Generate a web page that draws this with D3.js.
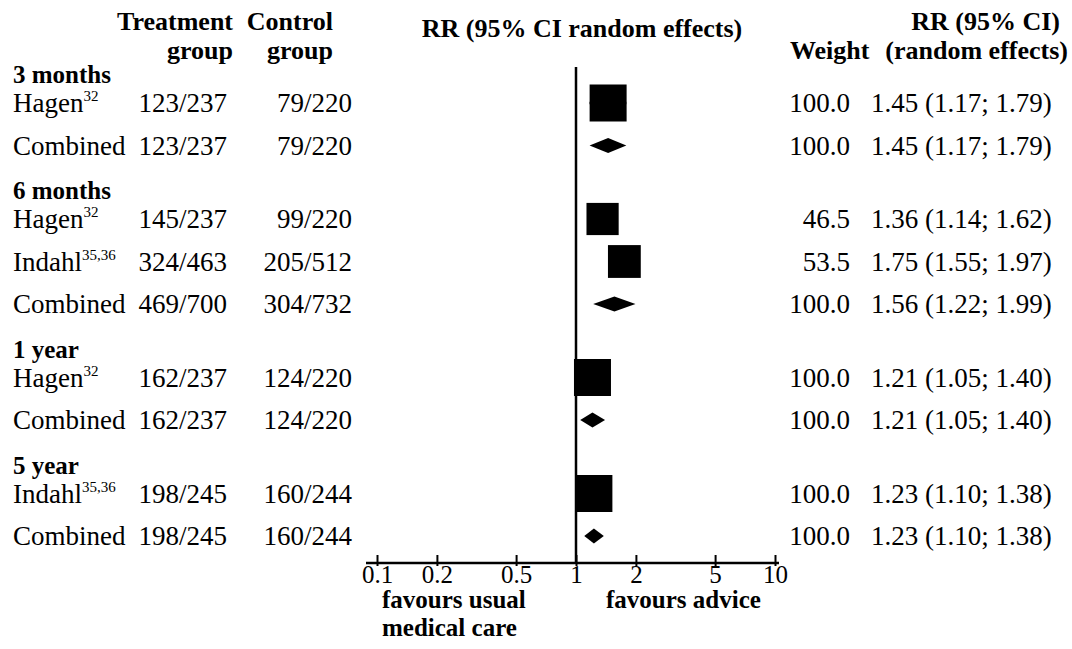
<!DOCTYPE html>
<html>
<head>
<meta charset="utf-8">
<script src="https://cdn.jsdelivr.net/npm/d3@7"></script>
<style>
  body { margin: 0; background: #fff; }
  text { font-family: "Liberation Serif", "Times New Roman", serif; fill: #000; }
</style>
</head>
<body>
<script>
	// data
	var groups = ["3 months", "6 months", "1 year", "5 year"];
	var groupOf = [0, 0, 1, 1, 1, 2, 2, 3, 3];
	var studies = ["Hagen", "Combined", "Hagen", "Indahl", "Combined", "Hagen", "Combined", "Indahl", "Combined"];
	var refs = ["32", "", "32", "35,36", "", "32", "", "35,36", ""];
	var treatment = ["123/237", "123/237", "145/237", "324/463", "469/700", "162/237", "162/237", "198/245", "198/245"];
	var control = ["79/220", "79/220", "99/220", "205/512", "304/732", "124/220", "124/220", "160/244", "160/244"];
	var weights = [100.0, 100.0, 46.5, 53.5, 100.0, 100.0, 100.0, 100.0, 100.0];
	var rr = [1.45, 1.45, 1.36, 1.75, 1.56, 1.21, 1.21, 1.23, 1.23];
	var lower = [1.17, 1.17, 1.14, 1.55, 1.22, 1.05, 1.05, 1.10, 1.10];
	var upper = [1.79, 1.79, 1.62, 1.97, 1.99, 1.40, 1.40, 1.38, 1.38];
	var tickValues = [0.1, 0.2, 0.5, 1, 2, 5, 10];

	var w = 1072;
	var h = 649;
	var axisY = 563;

	var svg = d3.select("body")
				.append("svg")
				.attr("width", w)
				.attr("height", h);

	// scales
	var x = d3.scaleLog()
			.domain([0.1, 10])
			.range([377, 775]);

	var rowY = d3.scaleLinear()
			.domain([0, studies.length - 1])
			.range([112, 112 + (studies.length - 1) * 42.5]);

	var boxSize = d3.scaleLinear()
			.domain([0, 100])
			.range([28, 37]);

	function yOf(i) {
		return rowY(i) + groupOf[i] * 31;
	}

	var f2 = d3.format(".2f");
	var f1 = d3.format(".1f");

	// column headers
	var head = svg.append("g")
			.attr("font-weight", "bold")
			.attr("font-size", "26px");

	head.append("text").attr("x", 233).attr("y", 30).attr("text-anchor", "end").text("Treatment");
	head.append("text").attr("x", 233).attr("y", 59).attr("text-anchor", "end").text("group");
	head.append("text").attr("x", 333).attr("y", 30).attr("text-anchor", "end").text("Control");
	head.append("text").attr("x", 333).attr("y", 59).attr("text-anchor", "end").text("group");
	head.append("text").attr("x", 582).attr("y", 37).attr("text-anchor", "middle").text("RR (95% CI random effects)");
	head.append("text").attr("x", 790).attr("y", 59).text("Weight");
	head.append("text").attr("x", 1060).attr("y", 30).attr("text-anchor", "end").text("RR (95% CI)");
	head.append("text").attr("x", 1068).attr("y", 59).attr("text-anchor", "end").text("(random effects)");

	// group labels
	svg.selectAll(".group")
		.data(groups)
		.enter()
		.append("text")
		.attr("class", "group")
		.attr("x", 13)
		.attr("y", function(d, g) {
			return yOf(groupOf.indexOf(g)) - 29;
		})
		.attr("font-weight", "bold")
		.attr("font-size", "25px")
		.text(function(d) { return d; });

	// rows of text
	var rows = svg.selectAll(".row")
		.data(studies)
		.enter()
		.append("g")
		.attr("class", "row")
		.attr("font-size", "27px")
		.attr("transform", function(d, i) {
			return "translate(0," + yOf(i) + ")";
		});

	var labels = rows.append("text").attr("x", 13);
	labels.append("tspan").text(function(d) { return d; });
	labels.append("tspan")
		.attr("font-size", "15px")
		.attr("dy", -11)
		.text(function(d, i) { return refs[i]; });

	rows.append("text")
		.attr("x", 227)
		.attr("text-anchor", "end")
		.text(function(d, i) { return treatment[i]; });

	rows.append("text")
		.attr("x", 352)
		.attr("text-anchor", "end")
		.text(function(d, i) { return control[i]; });

	rows.append("text")
		.attr("x", 850)
		.attr("text-anchor", "end")
		.text(function(d, i) { return f1(weights[i]); });

	rows.append("text")
		.attr("x", 871)
		.text(function(d, i) {
			return f2(rr[i]) + " (" + f2(lower[i]) + "; " + f2(upper[i]) + ")";
		});

	// line of no effect
	svg.append("line")
		.attr("x1", x(1)).attr("x2", x(1))
		.attr("y1", 67).attr("y2", axisY)
		.attr("stroke", "#000")
		.attr("stroke-width", 2.5);

	// markers
	var marks = svg.append("g");
	studies.forEach(function(s, i) {
		var cy = yOf(i) - 9;
		if (s == "Combined") {
			var hh = 7.5;
			marks.append("path")
				.attr("d", "M" + x(lower[i]) + "," + cy +
					"L" + x(rr[i]) + "," + (cy - hh) +
					"L" + x(upper[i]) + "," + cy +
					"L" + x(rr[i]) + "," + (cy + hh) + "Z")
				.attr("fill", "#000");
		} else {
			var size = boxSize(weights[i]);
			marks.append("line")
				.attr("x1", x(lower[i])).attr("x2", x(upper[i]))
				.attr("y1", cy).attr("y2", cy)
				.attr("stroke", "#000")
				.attr("stroke-width", 2.5);
			marks.append("rect")
				.attr("x", x(rr[i]) - size / 2)
				.attr("y", cy - size / 2)
				.attr("width", size)
				.attr("height", size)
				.attr("fill", "#000");
		}
	});

	// x axis
	var xAxis = d3.axisBottom(x)
			.tickValues(tickValues)
			.tickFormat(function(d) { return d; })
			.tickSizeOuter(0);

	var xGuide = svg.append("g")
			.attr("transform", "translate(0," + axisY + ")")
			.call(xAxis);

	xGuide.select(".domain").remove();
	xGuide.insert("line", ":first-child")
		.attr("x1", x(0.1) - 11).attr("x2", x(10) + 4)
		.attr("stroke", "#000")
		.attr("stroke-width", 2.5);
	xGuide.selectAll(".tick line")
		.attr("y1", -8).attr("y2", 3)
		.attr("stroke", "#000")
		.attr("stroke-width", 2);
	xGuide.selectAll(".tick text")
		.attr("y", 20)
		.attr("dy", null)
		.attr("fill", "#000")
		.style("font-family", "Liberation Serif")
		.style("font-size", "25px");

	// favours labels
	var fav = svg.append("g")
			.attr("font-weight", "bold")
			.attr("font-size", "25px");
	fav.append("text").attr("x", x(0.1) + 5).attr("y", 608).text("favours usual");
	fav.append("text").attr("x", x(0.1) + 5).attr("y", 636).text("medical care");
	fav.append("text").attr("x", x(1) + 30).attr("y", 608).text("favours advice");
</script>
</body>
</html>
